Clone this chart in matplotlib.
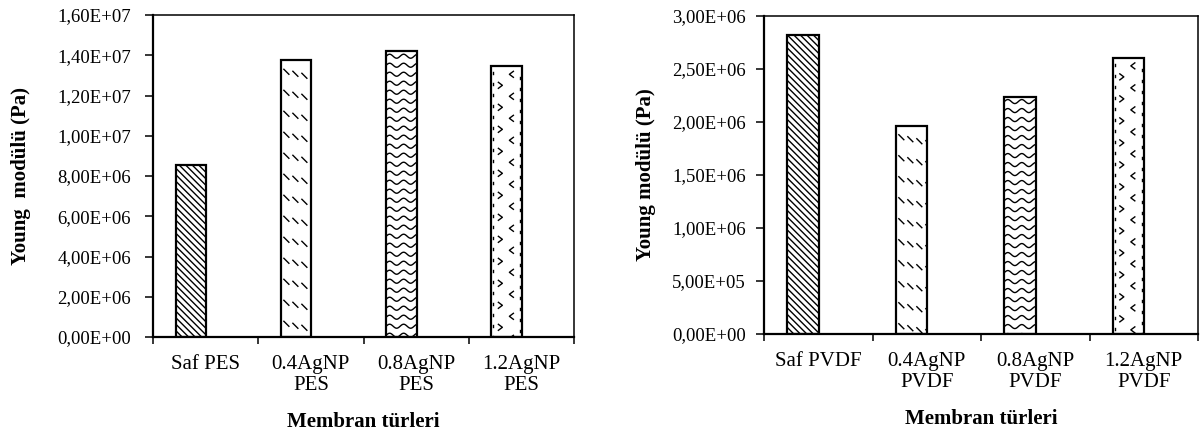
import numpy as np
import matplotlib
matplotlib.use('Agg')
import matplotlib.pyplot as plt
from matplotlib.transforms import IdentityTransform
from matplotlib.ticker import FuncFormatter, FixedLocator

# data
pes_labels = ['Saf PES', '0.4AgNP\nPES', '0.8AgNP\nPES', '1.2AgNP\nPES']
pes_values = [8.55e6, 1.375e7, 1.42e7, 1.345e7]
pes_ticks = [0, 2e6, 4e6, 6e6, 8e6, 1e7, 1.2e7, 1.4e7, 1.6e7]

pvdf_labels = ['Saf PVDF', '0.4AgNP\nPVDF', '0.8AgNP\nPVDF', '1.2AgNP\nPVDF']
pvdf_values = [2.82e6, 1.965e6, 2.24e6, 2.605e6]
pvdf_ticks = [0, 5e5, 1e6, 1.5e6, 2e6, 2.5e6, 3e6]

patterns = ['diag', 'dash', 'wave', 'chevron']

plt.rcParams['font.family'] = 'Liberation Serif'


def sci_comma(v, pos):
    return f"{v:.2E}".replace('.', ',')


# Pattern strokes in pixel coordinates, built from a bar's bounding box
def pattern_strokes(kind, x0, y0, x1, y1):
    strokes = []
    h = y1 - y0
    if kind == 'diag':
        for k in np.arange(x0 - h, x1 + 2, 6.5):
            strokes.append(([k, k + h], [y1, y0]))
    elif kind == 'dash':
        for yr in np.arange(y1 - 9, y0 - 10, -21):
            for j, xs in enumerate(np.arange(x0 + 3, x1, 9)):
                yy = yr - j * 2
                strokes.append(([xs, xs + 5], [yy, yy - 5]))
    elif kind == 'wave':
        xs = np.arange(x0 - 2, x1 + 2, 0.5)
        for yr in np.arange(y1 - 5, y0 - 5, -9):
            strokes.append((xs, yr + 2.0 * np.sin(2 * np.pi * (xs - x0) / 14.0)))
    elif kind == 'chevron':
        for i, yr in enumerate(np.arange(y1 - 8, y0 - 5, -11)):
            if i % 2 == 0:
                cx = x0 + 20
                strokes.append(([cx + 2, cx - 2, cx + 2], [yr + 3, yr, yr - 3]))
            else:
                cx = x0 + 9
                strokes.append(([cx - 2, cx + 2, cx - 2], [yr + 3, yr, yr - 3]))
            strokes.append(([x0 + 2, x0 + 2], [yr + 2, yr]))
            strokes.append(([x1 - 2, x1 - 2], [yr - 3, yr - 5]))
    return strokes


fig = plt.figure(figsize=(12, 4.33), dpi=100)
ax1 = fig.add_axes([153 / 1200, (433 - 337) / 433, (574 - 153) / 1200, (337 - 15) / 433])
ax2 = fig.add_axes([764 / 1200, (433 - 334) / 433, (1198 - 764) / 1200, (334 - 16) / 433])

all_bars = []
for ax, labels, values, ticks, ylab, ypad in [
        (ax1, pes_labels, pes_values, pes_ticks, 'Young  modülü (Pa)', 10),
        (ax2, pvdf_labels, pvdf_values, pvdf_ticks, 'Young modülü (Pa)', 7)]:
    x = np.arange(len(values))
    # white fill under the pattern, black outline above it
    bars = ax.bar(x - 0.14, values, width=0.29, color='white',
                  edgecolor='none', zorder=2)
    ax.bar(x - 0.14, values, width=0.29, fill=False,
           edgecolor='black', linewidth=1.6, zorder=3)
    all_bars.append(bars)
    ax.set_xlim(-0.5, len(values) - 0.5)
    ax.set_ylim(ticks[0], ticks[-1])
    ax.yaxis.set_major_locator(FixedLocator(ticks))
    ax.yaxis.set_major_formatter(FuncFormatter(sci_comma))
    ax.set_xticks(x)
    ax.set_xticklabels(labels, linespacing=1.15)
    ax.set_xticks(np.arange(-0.5, len(values)), minor=True)
    ax.tick_params(axis='x', which='major', length=0, pad=13, labelsize=15)
    ax.tick_params(axis='x', which='minor', length=5, width=1.1, direction='out')
    ax.tick_params(axis='y', length=6, width=1.1, direction='out', labelsize=13.5, pad=ypad)
    for s in ax.spines.values():
        s.set_linewidth(1.1)
    ax.spines['left'].set_linewidth(1.6)
    ax.spines['bottom'].set_linewidth(1.6)
    ax.set_ylabel(ylab, fontweight='bold', fontsize=15)
    ax.set_xlabel('Membran türleri', fontweight='bold', fontsize=15, labelpad=12)

ax1.yaxis.set_label_coords((31 - 153) / (574 - 153), 0.5)
ax2.yaxis.set_label_coords((656 - 764) / (1198 - 764), 0.5)

fig.canvas.draw()
for ax, bars in zip([ax1, ax2], all_bars):
    for bar, kind in zip(bars, patterns):
        bb = bar.get_window_extent()
        for xs, ys in pattern_strokes(kind, bb.x0, bb.y0, bb.x1, bb.y1):
            ln = plt.Line2D(xs, ys, transform=IdentityTransform(), color='black',
                            linewidth=1.0, zorder=2.5)
            ax.add_line(ln)
            ln.set_clip_path(bar)

fig.savefig('out.png', dpi=100)
